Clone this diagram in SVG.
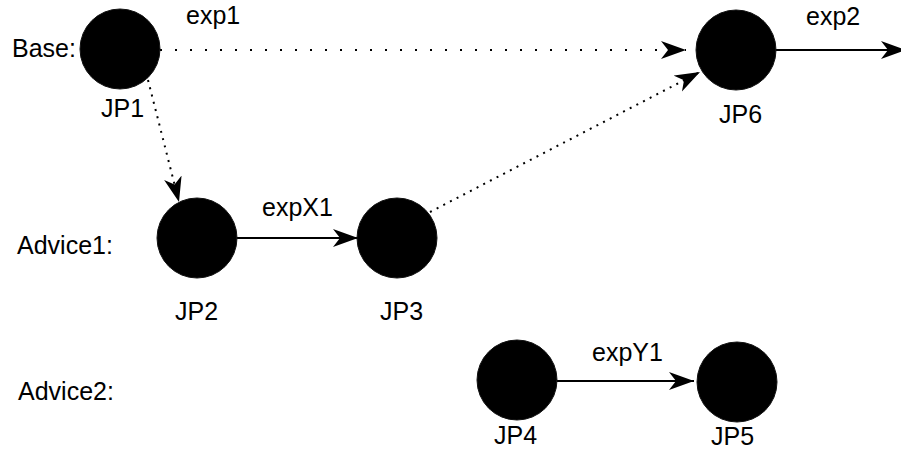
<svg xmlns="http://www.w3.org/2000/svg" width="901" height="450" viewBox="0 0 901 450">
  <style>
    text { font-family: "Liberation Sans", Arial, Helvetica, sans-serif; font-size: 25px; fill: #000; }
    .node { fill: #000; stroke: #111; stroke-width: 1; }
    .edge { fill: none; stroke: #000; stroke-width: 2; }
    .dot-h { stroke-dasharray: 2 13; }
    .dot-d { stroke-dasharray: 2 5.5; }
  </style>
  <defs>
    <marker id="arrow" markerUnits="userSpaceOnUse" markerWidth="28" markerHeight="20" refX="25" refY="9" orient="auto" viewBox="0 0 28 20">
      <path d="M0,0 L25,9 L0,18 L7,9 Z" fill="#000"/>
    </marker>
  </defs>
  <rect width="901" height="450" fill="#fff"/>

  <g id="row-labels">
    <text x="12" y="57">Base:</text>
    <text x="17" y="254">Advice1:</text>
    <text x="18" y="400">Advice2:</text>
  </g>

  <g id="connectors">
    <path class="edge dot-h" d="M160,50 L686,50" marker-end="url(#arrow)"/>
    <path class="edge dot-d" d="M148,80 L179,202" marker-end="url(#arrow)"/>
    <path class="edge dot-d" d="M430,212 L700,72" marker-end="url(#arrow)"/>
    <path class="edge" d="M237,238 L358,238" marker-end="url(#arrow)"/>
    <path class="edge" d="M557,381 L694,381" marker-end="url(#arrow)"/>
    <path class="edge" d="M776,50 L906,50" marker-end="url(#arrow)"/>
    <text x="186" y="24">exp1</text>
    <text x="806" y="25">exp2</text>
    <text x="262" y="216">expX1</text>
    <text x="592" y="361">expY1</text>
  </g>

  <g id="JP1">
    <circle class="node" cx="120" cy="49" r="40"/>
    <text x="101" y="117">JP1</text>
  </g>
  <g id="JP2">
    <circle class="node" cx="197" cy="238" r="40"/>
    <text x="175" y="320">JP2</text>
  </g>
  <g id="JP3">
    <circle class="node" cx="397" cy="238" r="40"/>
    <text x="380" y="320">JP3</text>
  </g>
  <g id="JP4">
    <circle class="node" cx="517" cy="380" r="40"/>
    <text x="494" y="444">JP4</text>
  </g>
  <g id="JP5">
    <circle class="node" cx="737" cy="382" r="40"/>
    <text x="711" y="445">JP5</text>
  </g>
  <g id="JP6">
    <circle class="node" cx="736" cy="50" r="40"/>
    <text x="719" y="123">JP6</text>
  </g>
</svg>
